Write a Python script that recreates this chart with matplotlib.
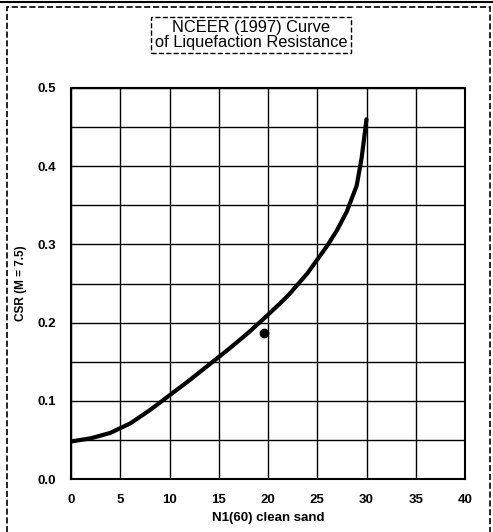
import matplotlib
matplotlib.use('Agg')
import matplotlib.pyplot as plt
from matplotlib.patches import Rectangle

plt.rcParams['font.family'] = ['Liberation Sans', 'DejaVu Sans']

## Curve of liquefaction resistance ##
n160 = [0, 2, 4, 6, 8, 10, 12, 14, 16, 18, 20, 22, 24, 26, 27, 28, 29, 29.5, 30]
csr = [0.048, 0.052, 0.059, 0.071, 0.088, 0.107, 0.126, 0.146, 0.166, 0.187,
       0.210, 0.234, 0.263, 0.298, 0.318, 0.342, 0.375, 0.41, 0.46]

## Single site point ##
site_n = [19.6]
site_csr = [0.187]

x_ticks = [0, 5, 10, 15, 20, 25, 30, 35, 40]
y_ticks = [0.0, 0.1, 0.2, 0.3, 0.4, 0.5]

fig = plt.figure(figsize=[4.93, 5.32], dpi=100)
ax = fig.add_axes([71/493, 1 - 479/532, 394/493, 391/532])

ax.plot(n160, csr, 'k', lw=3, solid_capstyle='round')
ax.plot(site_n, site_csr, 'ko', ms=6)

ax.set_xlim(0, 40)
ax.set_ylim(0, 0.5)
ax.set_xticks(x_ticks)
ax.set_yticks(y_ticks)
ax.set_yticks([0.05, 0.15, 0.25, 0.35, 0.45], minor=True)
ax.set_yticklabels([f'{v:.1f}' for v in y_ticks])
ax.grid(True, which='both', color='k', lw=1)
ax.tick_params(axis='both', which='both', length=0, labelsize=9.5)
ax.tick_params(axis='x', pad=11)
ax.tick_params(axis='y', pad=11)
for label in ax.get_xticklabels() + ax.get_yticklabels():
    label.set_fontweight('bold')
for spine in ax.spines.values():
    spine.set_linewidth(1.5)

ax.set_xlabel('N1(60) clean sand', fontsize=9.5, fontweight='bold', labelpad=4)
ax.set_ylabel('CSR (M = 7.5)', fontsize=8.5, fontweight='bold', labelpad=7)

fig.text(251/493, 1 - 35/532, 'NCEER (1997) Curve\nof Liquefaction Resistance',
         ha='center', va='center', fontsize=11.8, linespacing=1.0,
         bbox=dict(facecolor='white', edgecolor='k', lw=1, linestyle='--',
                   boxstyle='square,pad=0.2'))

## Outer frame ##
fig.patches.append(Rectangle((7/493, -0.05), 483/493, 1 - 7/532 + 0.05,
                             transform=fig.transFigure, fill=False,
                             edgecolor='k', lw=1.2, linestyle='--'))
fig.lines.append(plt.Line2D([0, 1], [1 - 2/532, 1 - 2/532],
                            transform=fig.transFigure, color='k', lw=1.5))

plt.savefig('out.png', dpi=100)
